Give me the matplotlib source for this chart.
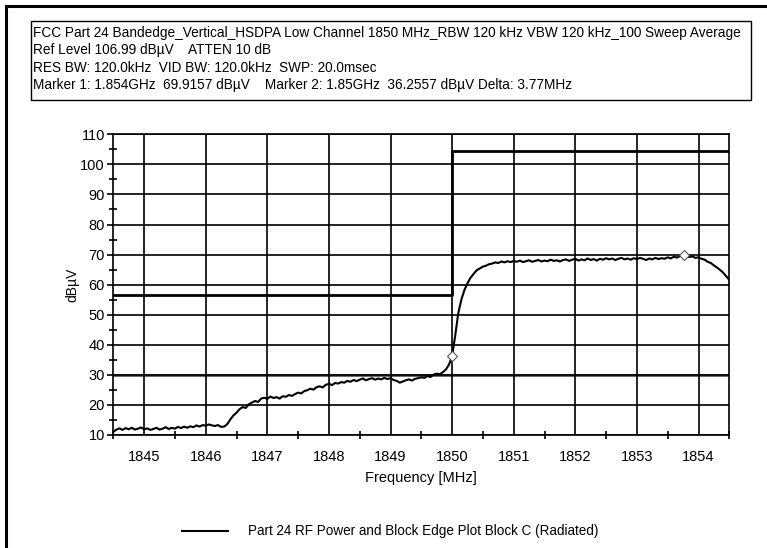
import numpy as np
import matplotlib
matplotlib.use("Agg")
import matplotlib.pyplot as plt
from matplotlib.lines import Line2D
from matplotlib.patches import Rectangle
from matplotlib.ticker import MultipleLocator

plt.rcParams['font.family'] = ['Liberation Sans', 'DejaVu Sans']

# sweep trace, 0.05 MHz per point from 1844.5 to 1854.5 MHz
level = [
    11.0, 11.8, 12.2, 11.7, 12.3, 11.9, 12.4, 11.8, 12.1, 12.5,
    11.9, 12.2, 11.7, 12.0, 12.4, 11.8, 12.1, 12.6, 12.0, 12.4,
    12.1, 12.7, 12.3, 12.8, 12.4, 12.9, 12.6, 13.2, 12.8, 13.3,
    13.1, 13.5, 13.2, 13.0, 13.3, 12.7, 12.8, 13.6, 15.2, 16.5,
    17.4, 18.6, 19.3, 19.0, 20.2, 20.8, 21.3, 21.0, 22.1, 22.4,
    22.0, 22.8, 22.3, 22.6, 22.1, 22.9, 22.7, 23.3, 23.0, 23.6,
    24.1, 23.8, 24.6, 24.9, 25.4, 25.1, 25.9, 26.2, 25.8, 26.7,
    27.0, 26.6, 27.3, 27.1, 27.6, 27.4, 28.0, 27.7, 28.3, 27.9,
    28.4, 28.8, 28.2, 28.6, 28.9, 28.4, 28.8, 28.5, 29.0, 28.6,
    28.9, 28.3, 28.0, 27.4, 27.8, 28.2, 28.5, 28.1, 28.7, 28.9,
    29.2, 29.0, 29.6, 29.3, 30.1, 30.4, 30.2, 30.9, 31.8, 33.4,
    36.26, 43.0, 50.5, 55.0, 58.2, 60.5, 62.3, 63.6, 64.8, 65.4,
    66.0, 66.3, 66.8, 67.0, 67.4, 67.2, 67.7, 67.4, 67.8, 67.5,
    67.9, 67.6, 68.0, 67.5, 67.8, 68.1, 67.6, 67.9, 68.2, 67.7,
    68.0, 67.8, 68.3, 67.9, 68.1, 67.7, 68.2, 68.4, 67.9, 68.3,
    68.6, 68.0, 68.4, 68.1, 68.7, 68.2, 68.5, 68.0, 68.6, 68.3,
    68.8, 68.4, 68.7, 68.2, 68.6, 68.9, 68.4, 68.7, 68.3, 68.8,
    68.5, 68.9, 68.6, 68.2, 68.7, 68.4, 68.9, 68.5, 68.8, 68.6,
    69.1, 68.7, 69.3, 69.0, 69.5, 69.9, 69.6, 69.2, 69.4, 68.9,
    69.1, 68.6, 68.3, 67.6, 67.2, 66.4, 65.7, 64.9, 64.0, 62.8,
    61.6,
]
f_start, f_stop = 1844.5, 1854.5
freq = np.linspace(f_start, f_stop, len(level))

# block edge limit line (steps up at 1850 MHz)
limit_freq = [1844.5, 1850.0, 1850.0, 1854.5]
limit_level = [56.4, 56.4, 104.5, 104.5]

# markers
marker_freq = [1853.77, 1850.0]
marker_level = [69.9157, 36.2557]

header = [
    "FCC Part 24 Bandedge_Vertical_HSDPA Low Channel 1850 MHz_RBW 120 kHz VBW 120 kHz_100 Sweep Average",
    "Ref Level 106.99 dB\u00b5V    ATTEN 10 dB",
    "RES BW: 120.0kHz  VID BW: 120.0kHz  SWP: 20.0msec",
    "Marker 1: 1.854GHz  69.9157 dB\u00b5V    Marker 2: 1.85GHz  36.2557 dB\u00b5V Delta: 3.77MHz",
]

W, H = 767, 548
fig = plt.figure(figsize=(W / 100, H / 100), dpi=100)
ax = fig.add_axes([113.3 / W, 1 - 435 / H, (729.3 - 113.3) / W, (435 - 134.3) / H])

ax.set_xlim(f_start, f_stop)
ax.set_ylim(10, 110)
ax.xaxis.set_major_locator(MultipleLocator(1))
ax.xaxis.set_minor_locator(MultipleLocator(0.5))
ax.yaxis.set_major_locator(MultipleLocator(10))
ax.yaxis.set_minor_locator(MultipleLocator(5))
ax.tick_params(which='major', direction='out', length=4, width=1.2, labelsize=10.5, pad=2)
ax.tick_params(which='minor', direction='inout', length=6, width=1.2)
ax.tick_params(axis='x', which='major', length=0, pad=11)
ax.grid(True, which='major', color='black', linewidth=1.2)
ax.axhline(30, color='#5a5a5a', linewidth=2.0, zorder=1)
for s in ax.spines.values():
    s.set_linewidth(1.2)

ax.plot(limit_freq, limit_level, color='black', linewidth=2, zorder=3)
ax.plot(freq, level, color='black', linewidth=1.5, zorder=4)
ax.plot(marker_freq, marker_level, linestyle='none', marker='D', markersize=5.5,
        markerfacecolor='white', markeredgecolor='#555555', markeredgewidth=0.8, zorder=5)

ax.set_xlabel("Frequency [MHz]", fontsize=10.5, labelpad=5)
ax.set_ylabel("dB\u00b5V", fontsize=10, labelpad=1)

# header box with the analyzer settings
fig.add_artist(Rectangle((31 / W, 1 - 100 / H), (751 - 31) / W, (100 - 20.7) / H,
                         transform=fig.transFigure, fill=False, edgecolor='black', linewidth=1))
for i, line in enumerate(header):
    fig.text(33 / W, 1 - (33 + 17.3 * i) / H, line, fontsize=9.85, va='center', ha='left')

# legend entry
fig.add_artist(Line2D([182 / W, 228 / W], [1 - 531 / H] * 2, color='black', linewidth=1.5))
fig.text(248 / W, 1 - 531 / H, "Part 24 RF Power and Block Edge Plot Block C (Radiated)",
         fontsize=9.75, va='center', ha='left')

# outer frame (left and top edges)
fig.add_artist(Line2D([6 / W, 6 / W], [0, 1 - 6 / H], color='black', linewidth=2.2))
fig.add_artist(Line2D([6 / W, 1], [1 - 6 / H] * 2, color='black', linewidth=2.2))

fig.savefig("out.png", dpi=100)
